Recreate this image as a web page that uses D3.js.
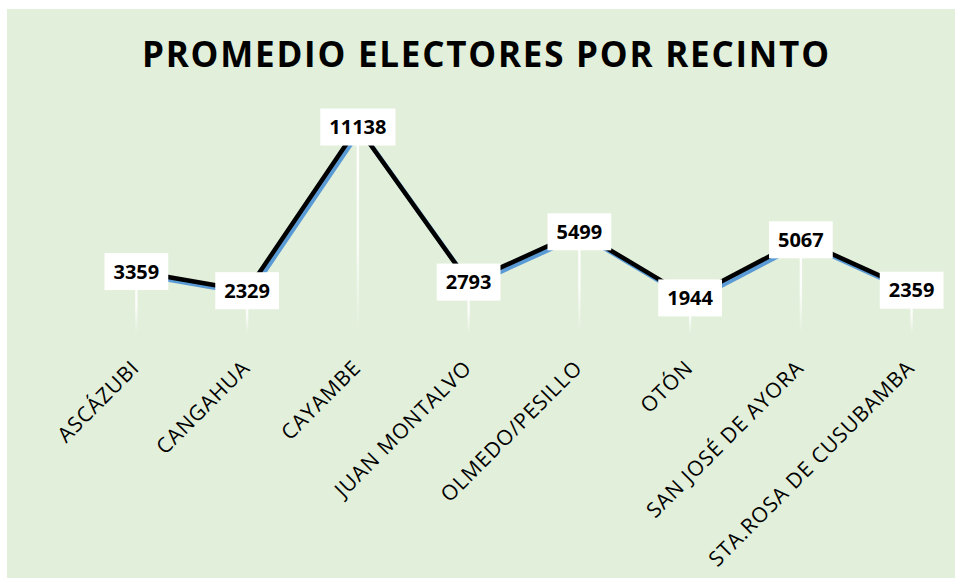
<!DOCTYPE html>
<html>
<head>
<meta charset="utf-8">
<script src="https://cdn.jsdelivr.net/npm/d3@7"></script>
<style>
    body { margin: 0; background: #fff; }
    svg { display: block; }
</style>
</head>
<body>
<svg id="chart"></svg>
<script>
const parroquias = ['ASCÁZUBI', 'CANGAHUA', 'CAYAMBE', 'JUAN MONTALVO', 'OLMEDO/PESILLO', 'OTÓN', 'SAN JOSÉ DE AYORA', 'STA.ROSA DE CUSUBAMBA'];
const promedio = [3359, 2329, 11138, 2793, 5499, 1944, 5067, 2359];
const chartTitle = 'PROMEDIO ELECTORES POR RECINTO';

class ElectoresLine {
    constructor(_config, _data) {
        this.config = {
            parentElement: _config.parentElement,
            containerWidth: _config.containerWidth || 955,
            containerHeight: _config.containerHeight || 578
        }
        this.data = _data;
        this.initVis();
    }

    initVis() {
        let vis = this;

        vis.svg = d3.select(vis.config.parentElement)
            .attr('width', vis.config.containerWidth)
            .attr('height', vis.config.containerHeight);

        // chart area background
        vis.svg.append('rect')
            .attr('x', 7)
            .attr('y', 9)
            .attr('width', vis.config.containerWidth - 7)
            .attr('height', vis.config.containerHeight - 9)
            .attr('fill', '#e2efda');

        const grad = vis.svg.append('defs').append('linearGradient')
            .attr('id', 'dropFade')
            .attr('x1', 0).attr('y1', 0).attr('x2', 0).attr('y2', 1);
        grad.append('stop').attr('offset', '0%').attr('stop-color', '#fff').attr('stop-opacity', 1);
        grad.append('stop').attr('offset', '55%').attr('stop-color', '#fff').attr('stop-opacity', 0.85);
        grad.append('stop').attr('offset', '100%').attr('stop-color', '#fff').attr('stop-opacity', 0);

        vis.xScale = d3.scalePoint()
            .range([81, 967])
            .padding(0.5);

        vis.yScale = d3.scaleLinear()
            .range([334, 111]);

        vis.svg.append('text')
            .text(chartTitle)
            .attr('x', 485.5)
            .attr('y', 67)
            .attr('text-anchor', 'middle')
            .attr('textLength', 687)
            .style('font-family', '"Open Sans", sans-serif')
            .style('font-weight', 'bold')
            .style('font-size', '35px')
            .style('fill', '#000');

        vis.chart = vis.svg.append('g');

        vis.updateVis();
    }

    updateVis() {
        let vis = this;

        vis.xScale.domain(vis.data.map(d => d.name));
        vis.yScale.domain([0, 12000]);

        vis.renderVis();
    }

    renderVis() {
        let vis = this;
        const y0 = vis.yScale(0);

        // drop lines
        vis.chart.selectAll('.drop')
            .data(vis.data)
            .join('rect')
            .attr('class', 'drop')
            .attr('x', d => vis.xScale(d.name) - 1.2)
            .attr('y', d => vis.yScale(d.value))
            .attr('width', 2.4)
            .attr('height', d => y0 - vis.yScale(d.value))
            .attr('fill', 'url(#dropFade)');

        const line = d3.line()
            .x(d => vis.xScale(d.name))
            .y(d => vis.yScale(d.value));

        vis.chart.append('path')
            .datum(vis.data)
            .attr('d', line)
            .attr('transform', 'translate(2.5,3)')
            .attr('fill', 'none')
            .attr('stroke', '#5b9bd5')
            .attr('stroke-width', 4.5)
            .attr('stroke-linejoin', 'round');

        vis.chart.append('path')
            .datum(vis.data)
            .attr('d', line)
            .attr('fill', 'none')
            .attr('stroke', '#000')
            .attr('stroke-width', 4.5)
            .attr('stroke-linejoin', 'round');

        // data labels
        const lbl = vis.chart.selectAll('.lbl')
            .data(vis.data)
            .join('g')
            .attr('class', 'lbl')
            .attr('transform', d => `translate(${vis.xScale(d.name)},${vis.yScale(d.value)})`);

        lbl.append('rect').attr('fill', '#fff');
        lbl.append('text')
            .text(d => d.value)
            .attr('text-anchor', 'middle')
            .attr('dy', '0.36em')
            .style('font-family', '"Open Sans", sans-serif')
            .style('font-weight', 'bold')
            .style('font-size', '20px')
            .style('fill', '#000');
        lbl.each(function () {
            const g = d3.select(this);
            const w = g.select('text').node().getComputedTextLength() + 18;
            g.select('rect')
                .attr('x', -w / 2)
                .attr('y', -18.5)
                .attr('width', w)
                .attr('height', 37);
        });

        // category labels
        vis.chart.selectAll('.cat')
            .data(vis.data)
            .join('text')
            .attr('class', 'cat')
            .text(d => d.name)
            .attr('transform', d => `translate(${vis.xScale(d.name) - 1},364) rotate(-45)`)
            .attr('text-anchor', 'end')
            .attr('dy', '0.35em')
            .style('font-family', '"Open Sans", sans-serif')
            .style('font-size', '21px')
            .style('letter-spacing', '0.9px')
            .style('fill', '#000');
    }
}

const data = parroquias.map((p, i) => ({ name: p, value: promedio[i] }));
new ElectoresLine({ parentElement: '#chart' }, data);
</script>
</body>
</html>
